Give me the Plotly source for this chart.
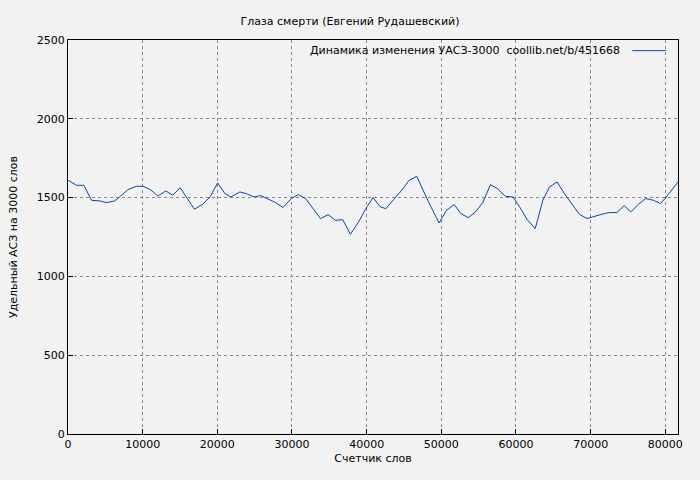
import plotly.graph_objects as go

x_words = [0,1160,2130,3150,4270,5160,6270,8050,9150,10040,11020,12040,13070,14040,15020,16930,18040,19030,20040,21020,21820,23020,23910,24930,25820,26930,27820,28800,29910,30840,31820,33820,34840,35820,36800,37820,38930,39820,40840,41830,42580,43600,44710,45690,46710,48180,49690,50710,51730,52620,53600,54580,55600,56580,57510,58580,59600,60490,61510,62580,63600,64490,65510,66490,67470,68490,69510,70490,71470,72490,73510,74490,75380,76360,77380,78400,79380,80490,81700]
y_vals = [1610,1578,1578,1483,1479,1468,1479,1551,1572,1572,1551,1510,1542,1515,1563,1426,1458,1504,1593,1525,1504,1536,1525,1504,1513,1487,1468,1437,1494,1519,1494,1367,1392,1356,1360,1267,1346,1424,1500,1441,1430,1487,1547,1610,1635,1483,1339,1420,1456,1398,1373,1409,1472,1582,1557,1508,1504,1441,1360,1303,1483,1568,1599,1525,1462,1394,1367,1382,1394,1405,1405,1449,1409,1456,1494,1483,1462,1525,1600]
legend_text = "Динамика изменения УАСЗ-3000  coollib.net/b/451668"
line_color = "#0645ad"

font = "DejaVu Sans"
fig = go.Figure(go.Scatter(x=x_words, y=y_vals, mode="lines",
    line=dict(color=line_color, width=1), name=legend_text, showlegend=False))
axis = dict(showline=True, linecolor="black", mirror=True, ticks="inside", ticklen=5,
            tickcolor="black", showgrid=True, gridcolor="#888888", griddash="dot",
            zeroline=False, tickfont=dict(size=11, color="black"), automargin=False)
fig.update_layout(
    width=700, height=480, paper_bgcolor="#f2f2f2", plot_bgcolor="#f2f2f2",
    margin=dict(l=68, r=22, t=40, b=46),
    font=dict(family=font, size=11, color="black"),
    title=dict(text="Глаза смерти (Евгений Рудашевский)", x=0.5, xanchor="center", y=0.963, font=dict(size=11)),
    xaxis=dict(axis, range=[0, 81700], tickvals=list(range(0, 80001, 10000)), tickformat="d",
               title=dict(text="Счетчик слов", standoff=4, font=dict(size=11))),
    yaxis=dict(axis, range=[0, 2500], dtick=500,
               title=dict(text="Удельный АСЗ на 3000 слов", standoff=16, font=dict(size=11))),
)
fig.add_annotation(xref="paper", yref="paper", x=0.908, y=0.973, xanchor="right", yanchor="middle",
                   text=legend_text, showarrow=False, font=dict(size=11))
fig.add_shape(type="line", xref="paper", yref="paper", x0=0.925, x1=0.98, y0=0.973, y1=0.973,
              line=dict(color=line_color, width=1))
fig.write_html("out.html", config={"displayModeBar": False},
               post_script="document.body.style.margin='0';document.body.style.background='#f2f2f2';")
